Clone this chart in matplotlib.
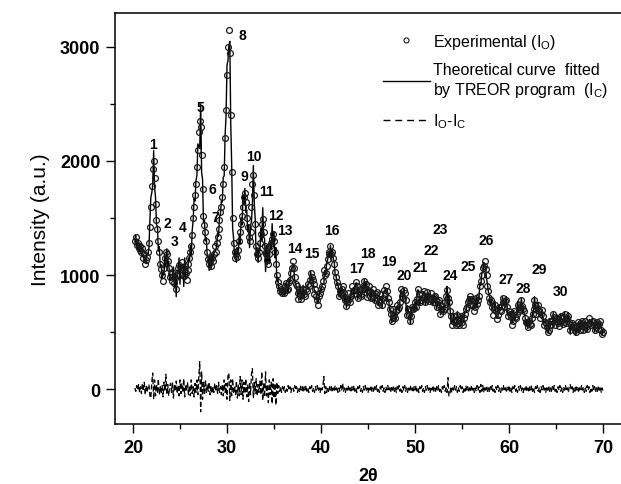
import numpy as np
import matplotlib
matplotlib.use("Agg")
import matplotlib.pyplot as plt

plt.rcParams['font.family'] = ['Liberation Sans', 'DejaVu Sans']
plt.rcParams['mathtext.fontset'] = 'custom'
plt.rcParams['mathtext.rm'] = 'Liberation Sans'

# Experimental intensities, 20.2-36.0 deg (0.1 deg step)
obs_a = [1300, 1330, 1260, 1280, 1240, 1250, 1220, 1200, 1240, 1150,
         1180, 1100, 1130, 1160, 1200, 1280, 1420, 1600,
         1780, 1930, 2000, 1850, 1620, 1480, 1400, 1300, 1200, 1100,
         1050, 1000, 950, 1060, 1150, 1200, 1180, 1120, 1060, 980,
         1010, 950, 1030, 990, 930, 970, 880, 1000, 1060, 1090,
         1000, 1050, 1110, 1060, 990, 1080, 1020, 960, 1040, 1100,
         1150, 1200, 1250, 1350, 1500, 1600, 1700, 1800, 1950, 2100,
         2250, 2350, 2300, 2050, 1750, 1520, 1440, 1380, 1300, 1200,
         1140, 1100, 1130, 1080, 1150, 1120, 1180, 1250, 1200, 1280,
         1330, 1400, 1480, 1550, 1600, 1680, 1800, 1950, 2200, 2450,
         2750, 3000, 3150, 2950, 2400, 1900, 1500, 1280, 1200, 1150,
         1180, 1160, 1220, 1300, 1380, 1450, 1520, 1600, 1680, 1720,
         1640, 1500, 1420, 1330, 1300, 1380, 1600, 1800, 1880, 1700,
         1450, 1250, 1180, 1150, 1200, 1280, 1360, 1450, 1490, 1380,
         1250, 1180, 1200, 1130, 1100, 1180, 1250, 1280, 1320, 1360,
         1300, 1200, 1100, 1000, 940, 900, 860, 880, 840, 870,
         860]
# Experimental intensities, 36.1-70.0 deg (0.1 deg step)
obs_b = [840, 900, 930, 870, 880, 940, 960, 1020, 1060, 1120,
         1060, 980, 920, 900, 790, 840, 880, 820, 790, 850,
         880, 830, 820, 880, 860, 920, 900, 960, 1020, 980,
         960, 920, 830, 880, 820, 780, 740, 820, 840, 880,
         900, 950, 1040, 1000, 1020, 1080, 1140, 1180, 1200, 1250,
         1180, 1200, 1150, 1100, 1030, 980, 940, 900, 820, 860,
         830, 880, 900, 840, 780, 800, 730, 760, 840, 790,
         760, 820, 900, 860, 830, 880, 940, 900, 800, 850,
         880, 830, 820, 880, 900, 950, 880, 920, 810, 870,
         900, 850, 800, 840, 880, 820, 780, 830, 850, 800,
         740, 760, 830, 780, 740, 800, 870, 830, 900, 860,
         800, 760, 700, 660, 600, 620, 700, 650, 620, 680,
         740, 700, 720, 760, 880, 820, 800, 870, 840, 780,
         650, 700, 700, 650, 600, 640, 720, 700, 710, 760,
         720, 790, 880, 830, 760, 780, 830, 800, 860, 810,
         760, 790, 850, 820, 770, 800, 840, 790, 760, 810,
         820, 780, 720, 760, 780, 740, 660, 700, 730, 680,
         700, 760, 820, 870, 800, 760, 680, 640, 560, 600,
         640, 590, 560, 600, 650, 580, 560, 610, 640, 590,
         560, 620, 660, 700, 720, 760, 780, 820, 740, 790,
         780, 740, 680, 720, 800, 750, 780, 820, 900, 950,
         1000, 1060, 1080, 1120, 1050, 1000, 900, 860, 800, 760,
         780, 720, 650, 700, 740, 680, 610, 650, 720, 690,
         680, 730, 800, 760, 720, 770, 780, 720, 640, 680,
         660, 630, 560, 600, 680, 630, 620, 660, 740, 700,
         680, 720, 780, 730, 700, 680, 620, 590, 580, 540,
         600, 570, 560, 620, 660, 700, 780, 740, 660, 710,
         740, 680, 620, 660, 690, 640, 560, 590, 580, 540,
         500, 520, 600, 560, 560, 600, 660, 630, 560, 600,
         620, 580, 550, 600, 640, 620, 570, 590, 660, 610,
         580, 620, 640, 590, 520, 560, 580, 540, 560, 520,
         500, 530, 590, 560, 520, 550, 600, 580, 520, 560,
         600, 540, 530, 570, 620, 580, 560, 590, 600, 560,
         520, 540, 590, 560, 530, 570, 600, 520, 480, 500]

# Difference I_O - I_C on the same grid
diff_a = [10, -20, 30, -10, 40, -30, 20, -40, 50, -20, 60, -50, 30, -30, 20, 40, -60, -80,
          60, 140, -90, 80, -60, 40, -30, 90, -50, 20,
          -40, 30, -70, 60, -20, 130, -50, 40, -60, 20,
          50, -30, 60, -80, 40, -20, 70, -40, 30, -60,
          80, -40, 50, -30, 90, -70, 40, -20, 60, -50,
          30, -60, 80, -40, 20, -70, 50, -30, 80, -50,
          120, 240, -200, 150, -90, 60, -40, 80, -30, 40,
          -20, 60, -50, 30, -40, 20, -30, 50, -20, 30,
          -40, 60, -30, 20, -50, 40, -60, 80, -30, 50,
          -90, 120, 140, -100, 80, -60, 90, -40, 30, -50,
          70, -80, 40, -60, 110, -50, 80, -90, 60, -40,
          90, -70, 40, -110, 60, -50, 130, 180, -80, 60,
          -40, 90, -60, 40, -30, 70, -50, 150, -100, 50,
          -70, 150, -60, 40, -120, 80, -50, 60, -130, 90,
          -80, 50, -140, 60, -40, 30, -20, 20, -30, 20,
          -20]
diff_b = [20, -30, 10, -20, 30, -10, 20, -30, 10, 20,
          -20, 30, -10, 20, -30, 10, -20, 30, -10, 20,
          -30, 20, -10, 30, -20, 10, -30, 20, -10, 30,
          -20, 10, -30, 20, -10, 30, -20, 10, -30, 20,
          -10, 30, 110, -40, 20, -30, 10, -20, 30, -10,
          20, -30, 10, -20, 30, -10, 20, -30, 10, -20,
          30, -10, 50, -20, 10, -30, 20, -10, 30, -20,
          10, -30, 20, -10, 30, -20, 10, -30, 20, -10,
          30, -20, 10, -30, 20, -10, 30, -20, 10, -30,
          20, -10, 30, -20, 10, -30, 20, -10, 30, -20,
          10, -30, 20, -10, 30, -20, 10, -30, 20, -10,
          30, -20, 10, -30, 20, -10, 30, -20, 10, -30,
          20, -10, 30, -20, 10, -30, 20, -10, 30, -20,
          10, -30, 20, -10, 30, -20, 10, -30, 20, -10,
          30, -20, 10, -30, 20, -10, 30, -20, 10, -30,
          20, -10, 30, -20, 10, -30, 20, -10, 30, -20,
          10, -30, 20, -10, 30, -20, 10, -30, 20, -10,
          30, -20, 10, -30, 100, -60, -50, 20, -30, 10,
          -20, 30, -10, 20, -30, 10, -20, 30, -10, 20,
          -30, 10, -20, 30, -10, 20, -30, 10, -20, 30,
          -10, 20, -30, 10, -20, 30, -10, 20, -30, 40,
          -20, 30, -30, 20, -10, 30, -20, 10, -30, 20,
          -10, 30, -20, 10, -30, 20, -10, 30, -20, 10,
          -30, 20, -10, 30, -20, 10, -30, 20, -10, 30,
          -20, 10, -30, 20, -10, 30, -20, 10, -30, 20,
          -10, 30, -20, 10, -30, 20, -10, 30, -20, 10,
          -30, 20, -10, 30, -20, 10, -30, 20, -10, 30,
          -20, 10, -30, 20, -10, 30, -20, 10, -30, 20,
          -10, 30, -20, 10, -30, 20, -10, 30, -20, 10,
          -30, 20, -10, 30, -20, 10, -30, 20, -10, 30,
          -20, 10, -30, 20, 40, -10, 20, -30, 10, -20,
          30, -10, 20, -30, 10, -20, 30, -10, 20, -30,
          10, -20, 30, -10, 20, -30, 10, -20, 30, -10,
          20, -30, 10, -20, 30, -10, 20, -30, 10, -20]

# Peak numbers and where they are written
peak_ids = list(range(1, 31))
peak_x = [22.1, 23.7, 24.4, 25.3, 27.2, 28.4, 28.8, 31.6, 31.9, 32.9,
          34.2, 35.2, 36.2, 37.2, 39.0, 41.2, 43.8, 45.0, 47.2, 48.8,
          50.5, 51.7, 52.7, 53.7, 55.7, 57.6, 59.7, 61.5, 63.2, 65.5]
peak_y = [2150, 1456, 1300, 1418, 2472, 1754, 1508, 3107, 1871, 2040,
          1734, 1529, 1394, 1236, 1190, 1394, 1058, 1193, 1120, 1000,
          1073, 1222, 1403, 1003, 1081, 1309, 965, 883, 1052, 862]

i_obs = np.array(obs_a + obs_b, dtype=float)
i_diff = np.array(diff_a + diff_b, dtype=float)
i_calc = i_obs - i_diff
tt = np.round(20.2 + 0.1 * np.arange(len(i_obs)), 2)

fig = plt.figure(figsize=(6.21, 4.85), dpi=100)
ax = fig.add_axes([0.1852, 0.1237, 0.8148, 0.8474])

ax.plot(tt, i_calc, color='k', lw=1.0, zorder=2)
ax.plot(tt, i_obs, 'o', mfc='none', mec='#1a1a1a', ms=4.2, mew=0.9, zorder=3)
ax.plot(tt, i_diff, color='k', lw=0.9, ls=(0, (4, 2)), zorder=2)

for pid, px, py in zip(peak_ids, peak_x, peak_y):
    ax.text(px, py, str(pid), fontsize=10, fontweight='bold', ha='center', va='center')

# legend handles (proxy artists)
h_obs, = ax.plot([], [], 'o', mfc='none', mec='#1a1a1a', ms=3.6, mew=0.8)
h_calc, = ax.plot([], [], color='k', lw=1.0)
h_diff, = ax.plot([], [], color='k', lw=1.0, ls=(0, (5, 3.5)))
ax.legend([h_obs, h_calc, h_diff],
          [r'Experimental ($\mathregular{I_O}$)',
           'Theoretical curve  fitted\nby TREOR program  ($\\mathregular{I_C}$)',
           r'$\mathregular{I_O}$-$\mathregular{I_C}$'],
          loc='upper left', bbox_to_anchor=(0.53, 0.955), frameon=False,
          fontsize=11.5, handlelength=2.9, handletextpad=0.25, labelspacing=0.75,
          borderpad=0, borderaxespad=0)

ax.set_xlim(18.09, 71.9)
ax.set_ylim(-307, 3298)
ax.set_xticks([20, 30, 40, 50, 60, 70])
ax.set_xticks(np.arange(25, 70, 10), minor=True)
ax.set_yticks([0, 1000, 2000, 3000])
ax.set_yticks([500, 1500, 2500], minor=True)
ax.tick_params(direction='out', length=6.5, width=1.0, labelsize=13, pad=4)
ax.tick_params(which='minor', direction='out', length=3.6, width=1.0)
for lab in ax.get_xticklabels() + ax.get_yticklabels():
    lab.set_fontweight('bold')
ax.spines['right'].set_visible(False)
for s in ('left', 'bottom', 'top'):
    ax.spines[s].set_linewidth(1.1)

ax.set_xlabel('2θ', fontsize=13, fontweight='bold', labelpad=8)
ax.set_ylabel('Intensity (a.u.)', fontsize=15, labelpad=7)

fig.savefig('out.png', dpi=100)
